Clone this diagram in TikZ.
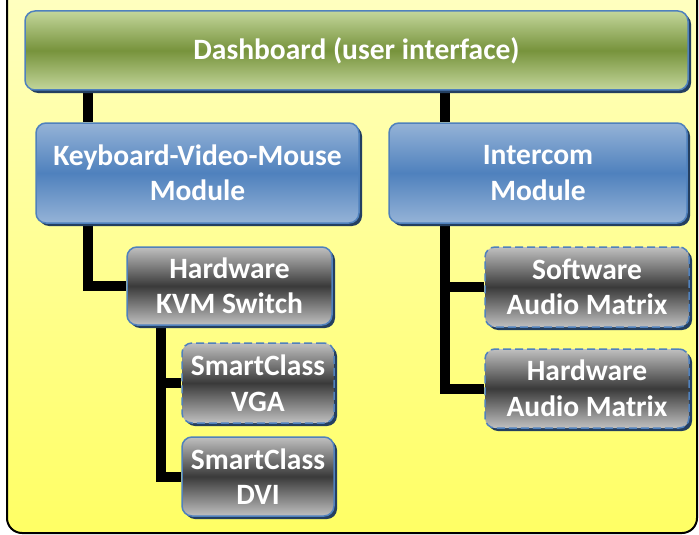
\documentclass[tikz,border=0pt]{standalone}
\usepackage{fontspec}
\setmainfont{Carlito}
\usetikzlibrary{shadows}
\pgfdeclarelayer{back}
\pgfdeclarelayer{mid}
\pgfsetlayers{back,mid,main}
\definecolor{boxline}{HTML}{4F81BD}
\definecolor{shadownavy}{HTML}{243F60}
\definecolor{greenlight}{HTML}{C3D69B}
\definecolor{greendark}{HTML}{77933C}
\definecolor{bluelight}{HTML}{95B3D7}
\definecolor{bluedark}{HTML}{4F81BD}
\definecolor{graylight}{HTML}{C0C0C0}
\definecolor{graydark}{HTML}{3A3A3A}
\definecolor{paleyellow}{HTML}{FFFFC4}
\definecolor{brightyellow}{HTML}{FFFF64}

\begin{document}
\begin{tikzpicture}[x=1pt,y=-1pt,
    box/.style={draw=boxline,line width=1.5pt,rounded corners=10pt,inner sep=0pt,
        align=center,text=white,font=\fontsize{29.5}{35.5}\selectfont\bfseries,
        drop shadow={shadow xshift=3pt,shadow yshift=-3pt,fill=shadownavy,opacity=1}},
    greenbox/.style={box,top color=greenlight,bottom color=greenlight,middle color=greendark},
    bluebox/.style={box,top color=bluelight,bottom color=bluelight,middle color=bluedark},
    graybox/.style={box,top color=graylight,bottom color=graylight,middle color=graydark},
    optional/.style={dash pattern=on 8pt off 4pt},
    link/.style={line width=10pt,black,line join=miter}]
    \useasboundingbox (0,0) rectangle (699,535);

    % boxes
    \node[greenbox,minimum width=663pt,minimum height=79pt] (dash) at (356.5,50.5) {Dashboard (user interface)};
    \node[bluebox,minimum width=323pt,minimum height=100pt] (kvm) at (197.5,173) {Keyboard-Video-Mouse\\Module};
    \node[bluebox,minimum width=298pt,minimum height=100pt] (icom) at (538,173) {Intercom\\Module};
    \node[graybox,minimum width=205pt,minimum height=78pt] (hwkvm) at (229.5,286) {Hardware\\KVM Switch};
    \node[graybox,optional,minimum width=152pt,minimum height=80pt] (vga) at (258,383) {SmartClass\\VGA};
    \node[graybox,minimum width=152pt,minimum height=79pt] (dvi) at (258,476.5) {SmartClass\\DVI};
    \node[graybox,optional,minimum width=204pt,minimum height=80pt] (swam) at (587,287) {Software\\Audio Matrix};
    \node[graybox,optional,minimum width=204pt,minimum height=79pt] (hwam) at (587,388.5) {Hardware\\Audio Matrix};

    % trunks of the connectors
    \coordinate (kvmtrunk) at (88,0);
    \coordinate (icomtrunk) at (445,0);
    \coordinate (switchtrunk) at (161,0);

    \begin{pgfonlayer}{back}
        \draw[black,line width=2pt,rounded corners=15pt,top color=paleyellow,bottom color=brightyellow]
            (7,-30) rectangle (697,533);
    \end{pgfonlayer}

    \begin{pgfonlayer}{mid}
        \draw[link] (dash.south -| kvmtrunk) -- (kvm.north -| kvmtrunk);
        \draw[link] (dash.south -| icomtrunk) -- (icom.north -| icomtrunk);
        \draw[link] (kvm.south -| kvmtrunk) |- (hwkvm.west);
        \draw[link] (hwkvm.south -| switchtrunk) |- (vga.west);
        \draw[link] (hwkvm.south -| switchtrunk) |- (dvi.west);
        \draw[link] (icom.south -| icomtrunk) |- (swam.west);
        \draw[link] (icom.south -| icomtrunk) |- (hwam.west);
    \end{pgfonlayer}
\end{tikzpicture}
\end{document}
